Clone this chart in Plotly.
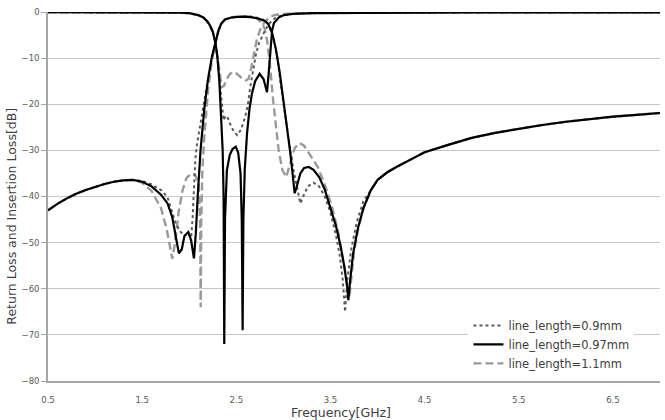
import plotly.graph_objects as go

# ---------------- data ----------------
# common low-frequency part of the insertion-loss curves
s21_low_f = [0.5, 0.6, 0.7, 0.8, 0.9, 1.0, 1.1, 1.2, 1.3, 1.4]
s21_low_db = [-43.0, -41.6, -40.4, -39.4, -38.6, -37.9, -37.3, -36.8, -36.5, -36.4]

# common high-frequency tail of the insertion-loss curves
s21_tail_f = [4.0, 4.1, 4.2, 4.35, 4.5, 4.75, 5.0, 5.25, 5.5, 5.75, 6.0, 6.25, 6.5, 6.75, 7.0]
s21_tail_db = [-36.4, -34.8, -33.6, -32.0, -30.4, -28.8, -27.3, -26.2, -25.3, -24.5,
               -23.8, -23.2, -22.7, -22.3, -21.9]

# common low-frequency part of the return-loss curves
s11_low_f = [0.5, 1.0, 1.5, 1.9, 2.0, 2.05, 2.1, 2.15, 2.19, 2.22, 2.25, 2.28]
s11_low_db = [-0.05, -0.05, -0.08, -0.15, -0.25, -0.4, -0.7, -1.2, -2.0, -2.9, -4.3, -6.8]

# common high-frequency part of the return-loss curves
s11_high_f = [3.1, 3.3, 4.0, 5.0, 6.0, 7.0]
s11_high_db = [-0.4, -0.25, -0.15, -0.1, -0.08, -0.08]

# line_length = 0.9 mm
s21_09_f = [1.5, 1.6, 1.7, 1.77, 1.85, 1.9, 1.95, 1.99, 2.02, 2.035, 2.05, 2.065, 2.08,
            2.11, 2.15, 2.2, 2.24, 2.28, 2.31, 2.34, 2.38, 2.45, 2.55, 2.65, 2.73, 2.8,
            2.85, 2.9, 2.94, 2.97, 3.01, 3.04, 3.08, 3.11, 3.15, 3.18, 3.21, 3.26, 3.32,
            3.38, 3.44, 3.5, 3.56, 3.6, 3.63, 3.655, 3.68, 3.72, 3.78, 3.85, 3.93]
s21_09_db = [-36.6, -37.4, -38.6, -40.2, -45.5, -47.5, -48.5, -48.0, -49.0, -45.0, -38.0,
             -32.0, -29.0, -25.0, -20.5, -14.5, -10.0, -6.6, -4.1, -2.6, -1.6, -1.2, -1.0,
             -1.0, -1.3, -1.8, -3.0, -6.0, -10.5, -15.4, -21.0, -26.0, -31.0, -34.5, -39.0,
             -41.5, -40.0, -37.8, -37.0, -37.8, -40.0, -43.5, -48.5, -53.0, -58.0, -65.0,
             -58.0, -51.5, -45.5, -41.0, -38.6]
s11_09_f = [2.3, 2.32, 2.345, 2.365, 2.385, 2.41, 2.44, 2.47, 2.51, 2.55, 2.59, 2.62,
            2.65, 2.68, 2.71, 2.74, 2.77, 2.8, 2.84, 2.88, 2.93, 3.0]
s11_09_db = [-10.0, -14.5, -20.0, -23.5, -22.5, -23.0, -24.5, -25.8, -26.7, -25.5, -23.0,
             -20.5, -16.0, -12.0, -9.0, -6.8, -5.3, -4.2, -2.8, -1.8, -1.1, -0.7]

# line_length = 0.97 mm
s21_097_f = [1.5, 1.6, 1.7, 1.77, 1.82, 1.86, 1.89, 1.92, 1.95, 1.99, 2.02, 2.05, 2.07,
             2.09, 2.12, 2.16, 2.2, 2.24, 2.28, 2.31, 2.34, 2.38, 2.45, 2.55, 2.65, 2.73,
             2.8, 2.84, 2.88, 2.92, 2.96, 3.0, 3.04, 3.07, 3.1, 3.12, 3.14, 3.18, 3.22,
             3.27, 3.32, 3.38, 3.44, 3.5, 3.56, 3.61, 3.65, 3.68, 3.69, 3.71, 3.74, 3.79,
             3.85, 3.93]
s21_097_db = [-36.8, -37.8, -39.6, -41.5, -44.5, -49.0, -52.3, -51.5, -48.5, -47.7, -49.5,
              -53.4, -48.0, -40.0, -30.0, -21.0, -14.5, -9.8, -6.5, -4.0, -2.5, -1.6, -1.2,
              -1.0, -1.1, -1.4, -1.9, -2.6, -4.5, -8.0, -13.0, -19.0, -25.0, -30.0, -35.5,
              -39.3, -38.0, -35.0, -33.8, -33.6, -34.2, -35.8, -38.5, -42.3, -46.5, -51.0,
              -55.5, -60.0, -62.5, -58.0, -52.5, -47.0, -42.5, -38.6]
s11_097_f = [2.3, 2.32, 2.34, 2.355, 2.365, 2.372, 2.38, 2.39, 2.4, 2.43, 2.46, 2.495,
             2.52, 2.545, 2.558, 2.567, 2.575, 2.59, 2.614, 2.64, 2.667, 2.7, 2.748, 2.79,
             2.826, 2.845, 2.86, 2.88, 2.9, 2.95, 3.0]
s11_097_db = [-10.0, -15.0, -22.0, -30.0, -40.0, -72.0, -45.0, -37.0, -34.3, -31.0, -29.7,
              -29.2, -30.5, -35.0, -45.0, -69.0, -45.0, -34.0, -26.3, -21.0, -17.6, -15.0,
              -13.4, -14.6, -17.4, -13.0, -8.5, -4.0, -2.4, -1.2, -0.7]

# line_length = 1.1 mm
s21_11_f = [1.5, 1.6, 1.7, 1.76, 1.8, 1.82, 1.85, 1.89, 1.93, 1.97, 2.02, 2.06, 2.1, 2.115,
            2.122, 2.128, 2.14, 2.16, 2.2, 2.24, 2.28, 2.31, 2.34, 2.38, 2.45, 2.55, 2.65,
            2.72, 2.76, 2.8, 2.83, 2.86, 2.89, 2.92, 2.95, 2.99, 3.03, 3.07, 3.12, 3.17,
            3.22, 3.3, 3.37, 3.45, 3.52, 3.58, 3.63, 3.67, 3.7, 3.72, 3.75, 3.8, 3.86, 3.93]
s21_11_db = [-37.0, -38.8, -42.5, -47.0, -51.5, -53.5, -50.0, -43.0, -38.6, -36.0, -35.0,
             -35.3, -37.0, -45.0, -64.0, -45.0, -34.0, -27.0, -17.0, -10.5, -6.7, -4.2,
             -2.6, -1.6, -1.1, -0.9, -1.0, -1.4, -2.2, -3.5, -6.5, -12.0, -19.0, -25.0,
             -30.0, -34.3, -35.8, -33.0, -29.5, -28.4, -29.0, -31.5, -33.8, -38.0, -42.5,
             -47.5, -53.0, -58.0, -62.0, -58.0, -52.0, -46.5, -42.0, -38.6]
s11_11_f = [2.3, 2.32, 2.345, 2.37, 2.4, 2.43, 2.46, 2.5, 2.55, 2.6, 2.63, 2.66, 2.69,
            2.72, 2.76, 2.8, 2.85, 2.9, 3.0]
s11_11_db = [-9.5, -13.0, -16.3, -16.0, -14.5, -13.5, -13.0, -13.3, -14.2, -14.8, -14.5,
             -12.0, -8.5, -5.8, -3.5, -2.2, -1.2, -0.7, -0.4]

names = ["line_length=0.9mm", "line_length=0.97mm", "line_length=1.1mm"]
x_tickvals = [0.5, 1.5, 2.5, 3.5, 4.5, 5.5, 6.5]
x_ticktext = ["0.5", "1.5", "2.5", "3.5", "4.5", "5.5", "6.5"]
y_tickvals = [0, -10, -20, -30, -40, -50, -60, -70, -80]
x_title = "Frequency[GHz]"
y_title = "Return Loss and Insertion Loss[dB]"

# ---------------- figure ----------------
styles = [
    dict(color="#5a5a5a", width=2.0, dash="dot"),
    dict(color="#000000", width=2.2, dash="solid"),
    dict(color="#9a9a9a", width=2.4, dash="8px,4px"),
]

s21_sets = [
    (s21_low_f + s21_09_f + s21_tail_f, s21_low_db + s21_09_db + s21_tail_db),
    (s21_low_f + s21_097_f + s21_tail_f, s21_low_db + s21_097_db + s21_tail_db),
    (s21_low_f + s21_11_f + s21_tail_f, s21_low_db + s21_11_db + s21_tail_db),
]
s11_sets = [
    (s11_low_f + s11_09_f + s11_high_f, s11_low_db + s11_09_db + s11_high_db),
    (s11_low_f + s11_097_f + s11_high_f, s11_low_db + s11_097_db + s11_high_db),
    (s11_low_f + s11_11_f + s11_high_f, s11_low_db + s11_11_db + s11_high_db),
]

fig = go.Figure()
# draw dashed first, then dotted, solid on top
for i in [2, 0, 1]:
    fx, fy = s11_sets[i]
    fig.add_trace(go.Scatter(x=fx, y=fy, mode="lines", line=styles[i],
                             showlegend=False, hoverinfo="skip"))
    fx, fy = s21_sets[i]
    fig.add_trace(go.Scatter(x=fx, y=fy, mode="lines", line=styles[i],
                             name=names[i], legendrank=i + 1))

font_family = "DejaVu Sans, Verdana, sans-serif"
fig.update_layout(
    width=665, height=420,
    margin=dict(l=48, r=5, t=12, b=39),
    paper_bgcolor="white", plot_bgcolor="white",
    font=dict(family=font_family, color="#404040"),
    showlegend=True,
    legend=dict(
        x=0.687, y=0.19, xanchor="left", yanchor="top",
        bgcolor="white", borderwidth=0,
        font=dict(size=11.5, color="#404040", family=font_family),
        itemwidth=30, tracegroupgap=0,
    ),
    xaxis=dict(
        range=[0.5, 7.0], tickvals=x_tickvals, ticktext=x_ticktext,
        showgrid=False, zeroline=False, showline=True, linecolor="#a6a6a6",
        linewidth=1.5, ticks="", ticklabelstandoff=10,
        tickfont=dict(size=8.5, color="#595959"),
    ),
    yaxis=dict(
        range=[-80, 0], tickvals=y_tickvals,
        showgrid=True, gridcolor="#c6c6c6", gridwidth=1, zeroline=False,
        showline=True, linecolor="#a6a6a6", linewidth=1.5,
        ticks="outside", ticklen=5, tickcolor="#a6a6a6",
        tickfont=dict(size=8.5, color="#595959"),
    ),
    annotations=[
        dict(text=x_title, xref="paper", yref="paper", x=0.479, y=-0.086,
             xanchor="center", yanchor="middle", showarrow=False,
             font=dict(size=12.5, color="#404040", family=font_family)),
        dict(text=y_title, xref="paper", yref="paper", x=-0.061, y=0.447,
             xanchor="center", yanchor="middle", textangle=-90, showarrow=False,
             font=dict(size=12.5, color="#404040", family=font_family)),
    ],
)

fig.write_html("out.html")
